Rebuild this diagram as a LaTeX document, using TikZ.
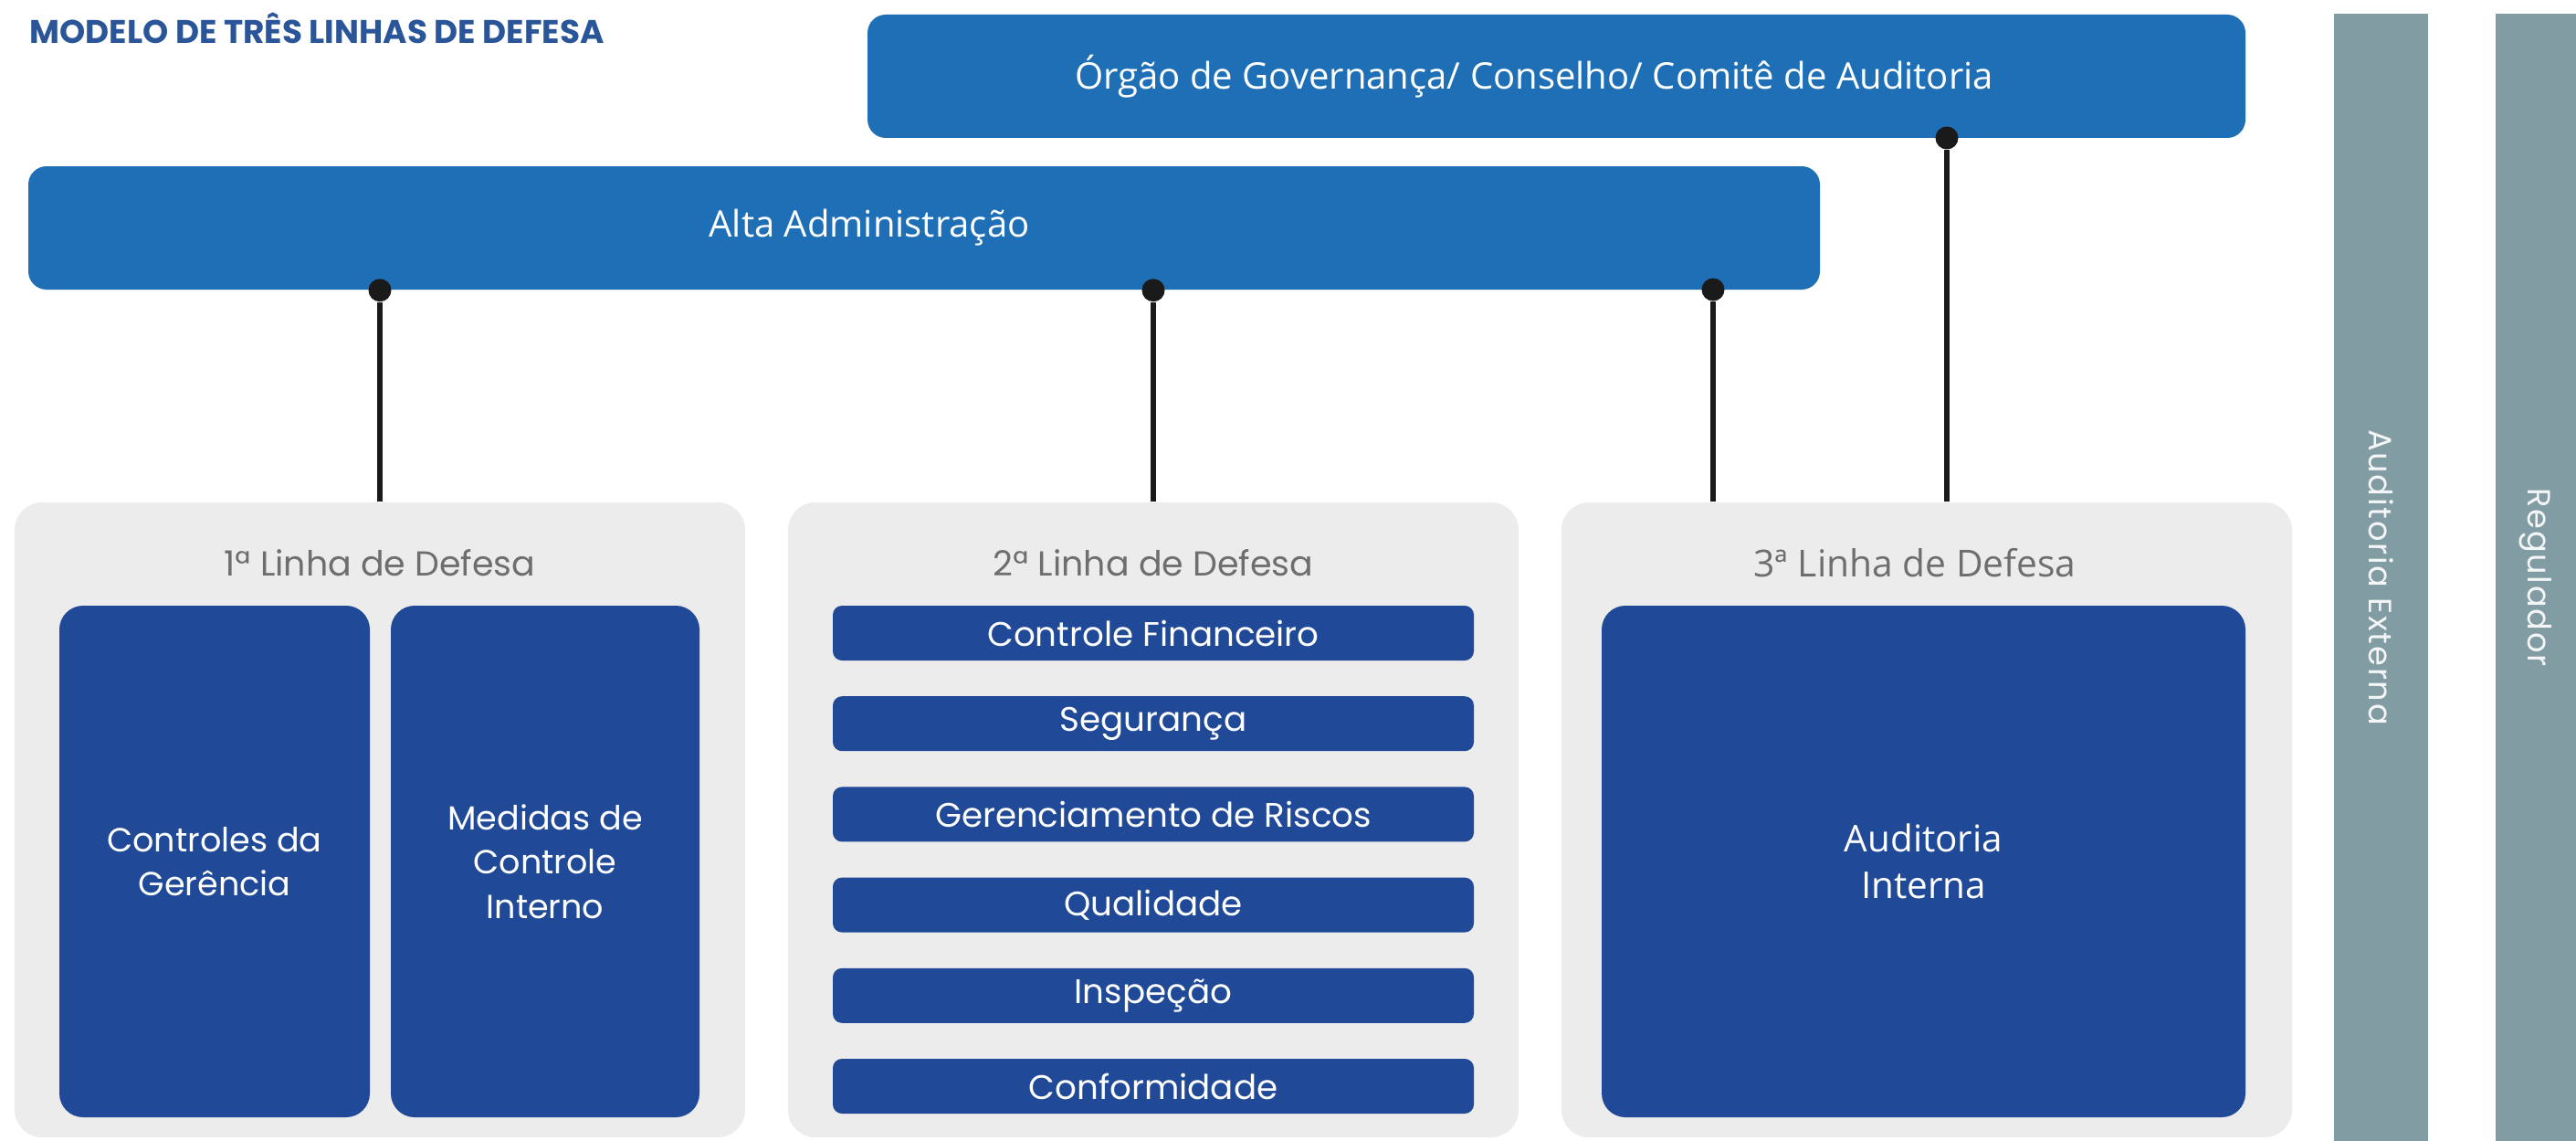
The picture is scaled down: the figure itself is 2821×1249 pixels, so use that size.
\documentclass[tikz,border=0pt]{standalone}
\usepackage{fontspec}
\setmainfont{Poppins}
\newfontfamily\humanfont{Open Sans}
\usepackage{tikz}
\usetikzlibrary{
	positioning			% Allows below=of style positioning
	, calc				% Allows ($(a)+(b)$) arithmetic
}

\definecolor{topBlue}{HTML}{1E6FB5}
\definecolor{deepBlue}{HTML}{204997}
\definecolor{panelGray}{HTML}{ECECEC}
\definecolor{sideGray}{HTML}{819CA3}
\definecolor{titleBlue}{HTML}{2A5699}
\definecolor{headGray}{HTML}{6E6E6E}
\definecolor{lineBlack}{HTML}{1A1A1A}

\begin{document}
\begin{tikzpicture}[
				x=0.1mm, y=-0.1mm,
				element/.style={
					rectangle,
					rounded corners=2mm,
					fill=topBlue,
					minimum height=13.5mm,
					inner sep=0
				},
				label/.style={
					text=white,
					font=\humanfont\fontsize{11.4}{13}\selectfont
				},
				panel/.style={
					rectangle,
					rounded corners=3mm,
					fill=panelGray,
					minimum width=80mm,
					minimum height=69.5mm,
					inner sep=0
				},
				heading/.style={
					text=headGray,
					font=\fontsize{10.8}{12}\selectfont
				},
				block/.style={
					rectangle,
					rounded corners=2.6mm,
					fill=deepBlue,
					text=white,
					minimum height=56mm,
					align=center,
					font=\fontsize{10.4}{13.8}\selectfont
				},
				bar/.style={
					rectangle,
					rounded corners=1mm,
					fill=deepBlue,
					text=white,
					minimum width=70.2mm,
					minimum height=6mm,
					inner sep=0,
					font=\fontsize{10.6}{12}\selectfont
				},
				side/.style={
					rectangle,
					fill=sideGray,
					minimum height=123.4mm,
					inner sep=0
				},
				sidetext/.style={
					text=white!90!sideGray,
					rotate=-90,
					font=\fontsize{10}{12}\selectfont\addfontfeature{LetterSpace=5}
				},
				dot/.style={
					circle,
					fill=lineBlack,
					inner sep=0,
					minimum size=2.5mm
				},
				link/.style={
					draw=lineBlack,
					line width=1.6pt
				}]

			\useasboundingbox (0,0) rectangle (2821,1249);

			%%% Title
			\node [anchor=base west, inner sep=0, text=titleBlue, font=\bfseries\fontsize{10.2}{12}\selectfont] (title) at (32,48) {MODELO DE TRÊS LINHAS DE DEFESA};

			%%% Governance and top management bars
			\node [element, minimum width=150.9mm] (gov) at (1704.5,83.5) {};
			\node [label] (govText) at (1680,83.5) {Órgão de Governança/ Conselho/ Comitê de Auditoria};
			\node [element, minimum width=196.2mm] (alta) at (1012,249.5) {};
			\node [label] (altaText) at (952,249.5) {Alta Administração};

			%%% The three lines of defence
			\foreach [count=\i] \col in {416, 1263, 2110} {
				\node [panel] (linha\i) at (\col,897.5) {};
			};
			\node [heading] (head1) at ($(linha1.north)+(0,67)$) {1ª Linha de Defesa};
			\node [heading] (head2) at ($(linha2.north)+(0,67)$) {2ª Linha de Defesa};
			\node [heading, font=\humanfont\fontsize{11.6}{13}\selectfont] (head3) at ($(linha3.north)+(-13,67)$) {3ª Linha de Defesa};

			% First line: two tall blocks
			\node [block, minimum width=34mm] (gerencia) at (235,943) {Controles da\\Gerência};
			\node [block, minimum width=33.8mm] (medidas) at (597,943) {Medidas de\\Controle\\Interno};

			% Second line: stacked bars
			\foreach [count=\i] \area in {Controle Financeiro, Segurança, Gerenciamento de Riscos, Qualidade, Inspeção, Conformidade} {
				\node [bar] (area\i) at (1263,{693+99.2*(\i-1)}) {\area};
			};

			% Third line: internal audit
			\node [block, minimum width=70.5mm, font=\humanfont\fontsize{11.5}{14.5}\selectfont] (interna) at (2106.5,943) {Auditoria\\Interna};

			%%% External bars on the right
			\node [side, minimum width=10.3mm] (externa) at (2607.5,632) {};
			\node [sidetext] (externaText) at (externa) {Auditoria Externa};
			\node [side, minimum width=8.8mm] (regulador) at (2777,632) {};
			\node [sidetext] (reguladorText) at (regulador) {Regulador};

			%%% Reporting lines with dots
			\node [dot] (dot1) at (alta.south -| linha1.north) {};
			\node [dot] (dot2) at (alta.south -| linha2.north) {};
			\node [dot] (dot3) at (1876,317) {};
			\node [dot] (dot4) at (2132,151) {};

			\path [link] (dot1) -- (linha1);
			\path [link] (dot2) -- (linha2);
			\path [link] (dot3) -- (dot3 |- linha3.north);
			\path [link] (dot4) -- (dot4 |- linha3.north);

		\end{tikzpicture}
\end{document}
